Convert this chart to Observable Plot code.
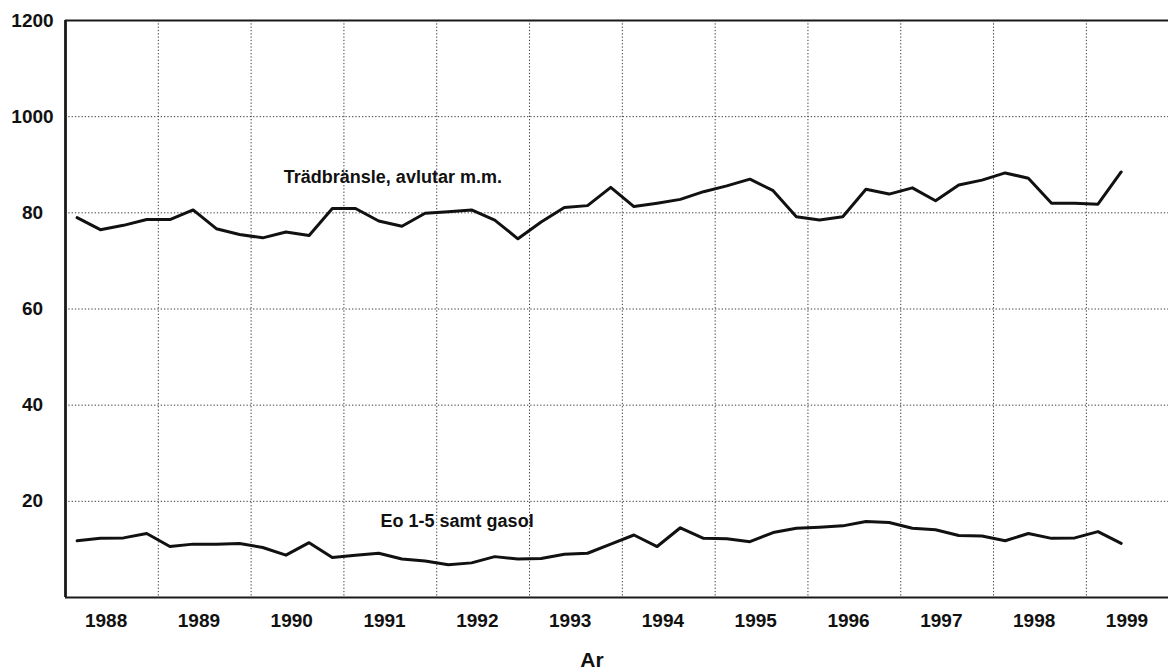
<!DOCTYPE html>
<html>
<head>
<meta charset="utf-8">
<script src="https://cdn.jsdelivr.net/npm/d3@7"></script>
<script src="https://cdn.jsdelivr.net/npm/@observablehq/plot@0.6"></script>
<style>
  html, body { margin: 0; padding: 0; background: #fff; overflow: hidden; }
  #chart svg { display: block; }
</style>
</head>
<body>
<div id="chart"></div>
<script>
// Year labels on the x axis (quarterly data, 4 categories per year)
const years = ["1988","1989","1990","1991","1992","1993","1994","1995","1996","1997","1998","1999"];

// Quarterly series, 1988 Q1 – 1999 Q2
const tradbransle = [
  79.0, 76.5, 77.4, 78.6,
  78.6, 80.6, 76.7, 75.5,
  74.8, 76.0, 75.3, 80.9,
  80.9, 78.3, 77.2, 79.9,
  80.2, 80.6, 78.5, 74.6,
  78.1, 81.1, 81.5, 85.3,
  81.3, 82.0, 82.8, 84.4,
  85.6, 87.0, 84.6, 79.2,
  78.5, 79.2, 84.9, 83.9,
  85.2, 82.5, 85.8, 86.8,
  88.3, 87.2, 82.0, 82.0,
  81.8, 88.5
];
const eoGasol = [
  11.8, 12.3, 12.4, 13.3,
  10.6, 11.1, 11.1, 11.25,
  10.4, 8.8, 11.4, 8.3,
  8.8, 9.2, 8.0, 7.6,
  6.8, 7.2, 8.5, 8.0,
  8.1, 9.0, 9.2, 11.1,
  13.0, 10.6, 14.5, 12.3,
  12.2, 11.6, 13.5, 14.4,
  14.6, 14.9, 15.8, 15.6,
  14.4, 14.1, 12.9, 12.8,
  11.8, 13.3, 12.3, 12.4,
  13.7, 11.25
];

// Axis ticks as printed on the chart
const yTicks = [20, 40, 60, 80, 100, 120];
const yLabels = ["20", "40", "60", "80", "1000", "1200"];
const yGrid = [20, 40, 60, 80, 100];
const xGrid = [4, 8, 12, 16, 20, 24, 28, 32, 36, 40, 44];   // year boundaries (in quarters)
const seriesNames = ["Trädbränsle, avlutar m.m.", "Eo 1-5 samt gasol"];
const axisTitle = "Ar";

const rows = [
  ...tradbransle.map((v, i) => ({q: i + 0.5, v, s: seriesNames[0]})),
  ...eoGasol.map((v, i) => ({q: i + 0.5, v, s: seriesNames[1]}))
];
const yearTicks = years.map((y, k) => 4 * k + 1.75);

const chart = Plot.plot({
  width: 1168,
  height: 672,
  marginLeft: 65,
  marginRight: 0,
  marginTop: 20,
  marginBottom: 75,
  x: {domain: [0, 47.54], axis: null},
  y: {domain: [0, 120], axis: null},
  style: {fontFamily: "'Liberation Sans', Arial, sans-serif", fontSize: "19px", fontWeight: "bold", background: "#fff", color: "#111"},
  marks: [
    Plot.gridY(yGrid, {stroke: "#3a3a3a", strokeOpacity: 1, strokeWidth: 1, strokeDasharray: "1.3,2"}),
    Plot.gridX(xGrid, {stroke: "#3a3a3a", strokeOpacity: 1, strokeWidth: 1, strokeDasharray: "1.3,2"}),
    Plot.axisY(yTicks, {
      tickSize: 0, tickPadding: 33, textAnchor: "middle", label: null, fontSize: 19,
      tickFormat: d => yLabels[yTicks.indexOf(d)], fill: "#111"
    }),
    Plot.axisX(yearTicks, {
      tickSize: 0, tickPadding: 16, label: null, fontSize: 19,
      tickFormat: d => years[Math.round((d - 1.75) / 4)], fill: "#111"
    }),
    Plot.ruleX([0], {stroke: "#1a1a1a", strokeWidth: 2.8}),
    Plot.ruleY([0, 120], {stroke: "#1a1a1a", strokeWidth: 2.2}),
    Plot.lineY(rows, {x: "q", y: "v", z: "s", stroke: "#111", strokeWidth: 3, strokeLinejoin: "round"}),
    Plot.text([seriesNames[0]], {x: 9.41, y: 87.4, textAnchor: "start", fill: "#111", fontSize: 18, fontWeight: "bold"}),
    Plot.text([seriesNames[1]], {x: 13.58, y: 15.8, textAnchor: "start", fill: "#111", fontSize: 18, fontWeight: "bold"}),
    Plot.text([axisTitle], {frameAnchor: "bottom", dx: -25, dy: 69, fill: "#111", fontSize: 21, fontWeight: "bold"})
  ]
});
document.getElementById("chart").append(chart);
</script>
</body>
</html>
